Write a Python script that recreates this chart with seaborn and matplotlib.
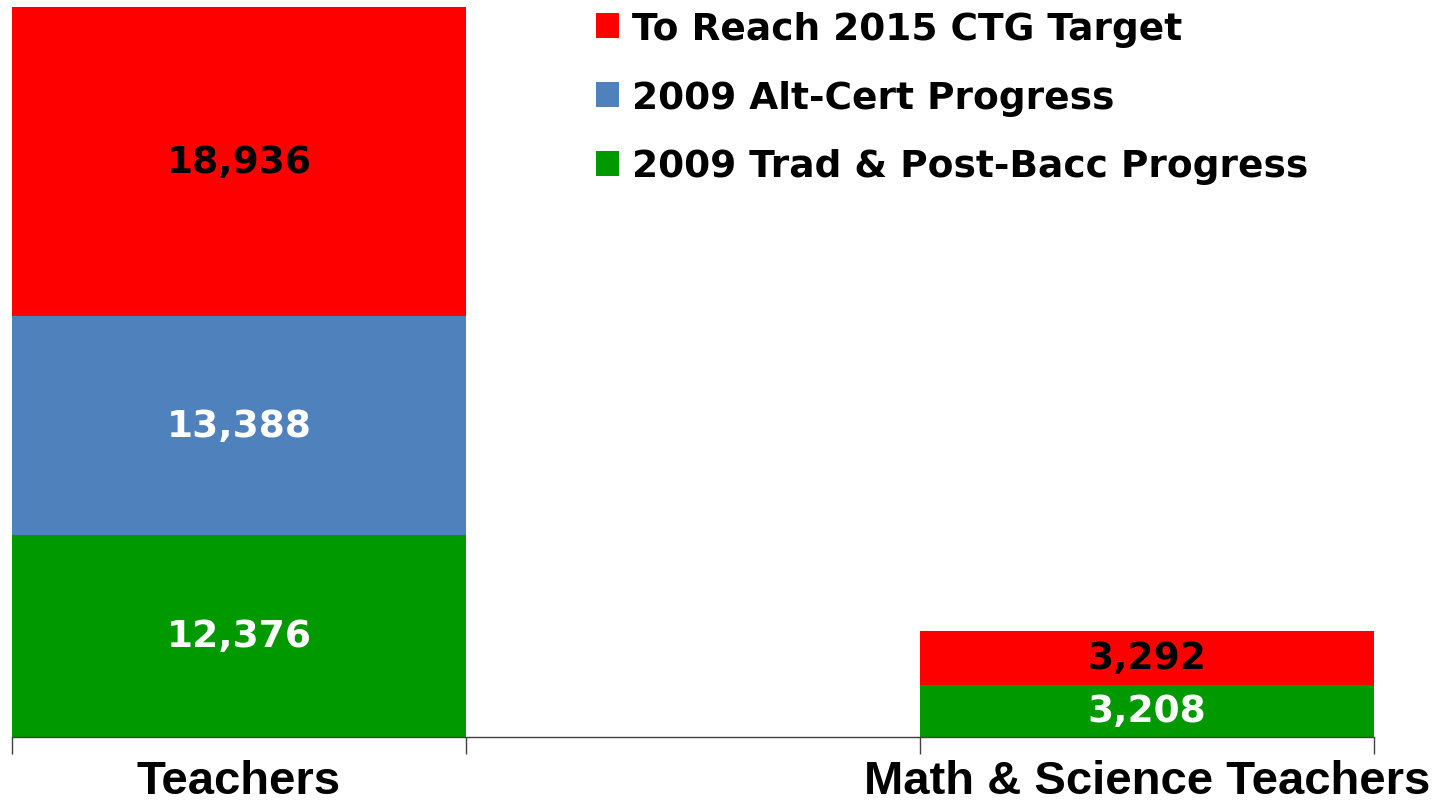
import matplotlib
matplotlib.use("Agg")
import matplotlib.pyplot as plt
import seaborn as sns
import numpy as np
import pandas as pd
from matplotlib.patches import Patch

categories = ["Teachers", " ", "Math & Science Teachers"]
trad_postbacc = [12376, 0, 3208]
alt_cert = [13388, 0, 0]
to_target = [18936, 0, 3292]
series_names = ["2009 Trad & Post-Bacc Progress", "2009 Alt-Cert Progress", "To Reach 2015 CTG Target"]
series_colors = ["#009900", "#4F81BD", "#FF0000"]
label_colors = ["white", "white", "black"]

sns.set_theme(style="white")
plt.rcParams['font.family'] = ['DejaVu Sans']

fig = plt.figure(figsize=(14.41, 8.04), dpi=100)
ax = fig.add_axes([12/1441, 1-738/804, (1374-12)/1441, (738-8)/804])

series = [trad_postbacc, alt_cert, to_target]
bottom = np.zeros(len(categories))
for vals, name, col, lc in zip(series, series_names, series_colors, label_colors):
    df = pd.DataFrame({"cat": categories, "val": vals})
    sns.barplot(data=df, x="cat", y="val", order=categories, color=col, width=1.0,
                saturation=1, bottom=bottom.copy(), linewidth=0, ax=ax, errorbar=None)
    for i, v in enumerate(vals):
        if v > 0:
            ax.text(i, bottom[i] + v/2, f"{v:,}", ha="center", va="center",
                    color=lc, fontsize=27, fontweight="bold", family="DejaVu Sans")
    bottom = bottom + np.array(vals)

ax.set_xlim(-0.5, 2.5)
ax.set_ylim(0, 44700)
ax.set_xlabel("")
ax.set_ylabel("")
ax.set_yticks([])
for s in ["top", "right", "left"]:
    ax.spines[s].set_visible(False)
ax.spines["bottom"].set_color("#404040")
ax.spines["bottom"].set_linewidth(1.0)

ax.set_xticks([0, 1, 2])
ax.set_xticklabels(categories, fontsize=34, fontweight="bold", family="Liberation Sans")
ax.set_xticks([-0.5, 0.5, 1.5, 2.5], minor=True)
ax.tick_params(axis="x", which="major", length=0, pad=16, colors="black")
ax.tick_params(axis="x", which="minor", length=12, width=1.0, color="#404040", bottom=True)

handles = [Patch(facecolor=c, edgecolor="none") for c in series_colors[::-1]]
leg = fig.legend(handles, series_names[::-1], loc="upper left",
                 bbox_to_anchor=(596/1441, 1-12/804), frameon=False,
                 prop={"family": "DejaVu Sans", "weight": "bold", "size": 27},
                 handlelength=0.6, handleheight=0.65, handletextpad=0.35,
                 labelspacing=0.87, borderpad=0, borderaxespad=0, labelcolor="black")

fig.savefig("out.png", dpi=100)
